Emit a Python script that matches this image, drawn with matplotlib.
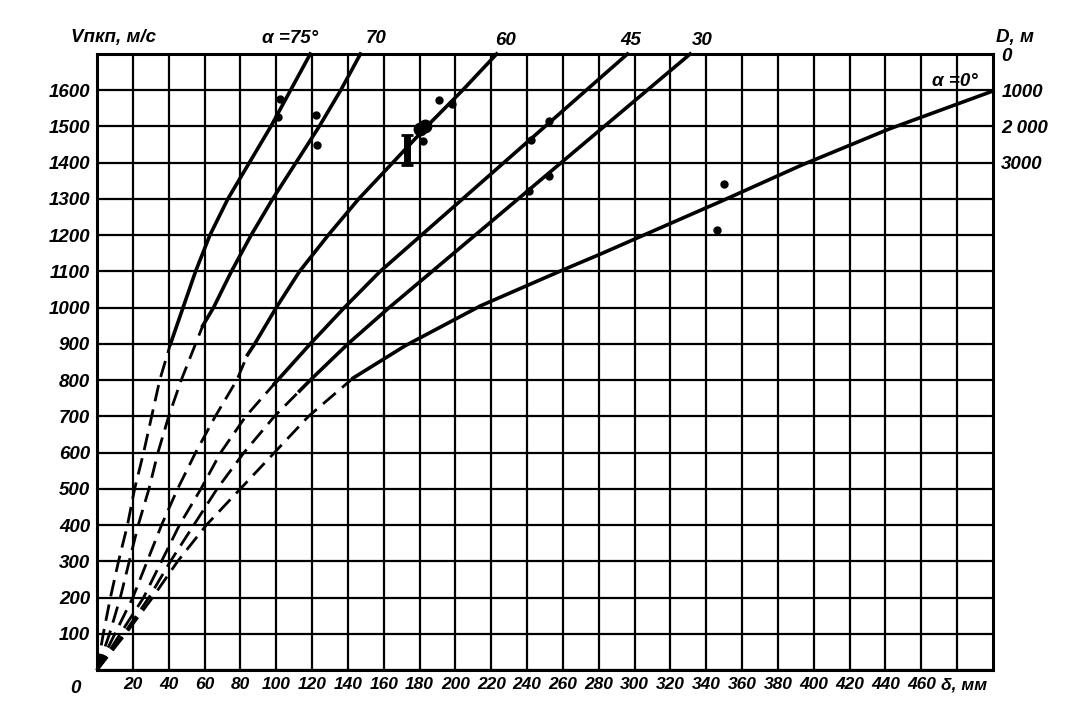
import matplotlib.pyplot as plt

# dashed (extrapolated) and solid parts of each curve: diameter d, mm -> velocity V, m/s
a75_dash_d = [0, 3.5, 7.5, 12, 17, 21, 26, 30.5, 35, 41]
a75_dash_v = [0, 100, 200, 300, 400, 500, 600, 700, 800, 900]
a75_solid_d = [41, 48, 55, 63, 73, 85, 97, 108, 119]
a75_solid_v = [900, 1000, 1100, 1200, 1300, 1400, 1500, 1600, 1700]

a70_dash_d = [0, 7, 13, 18, 23, 29, 34, 40, 47, 55, 59]
a70_dash_v = [0, 100, 200, 300, 400, 500, 600, 700, 800, 900, 950]
a70_solid_d = [59, 65, 75, 86, 98, 111, 124, 136, 147]
a70_solid_v = [950, 1000, 1100, 1200, 1300, 1400, 1500, 1600, 1700]

a60_dash_d = [0, 10, 20, 28, 36, 45, 55, 66, 78, 84]
a60_dash_v = [0, 100, 200, 300, 400, 500, 600, 700, 800, 870]
a60_solid_d = [84, 88, 100, 113, 129, 146, 165, 184, 204, 223]
a60_solid_v = [870, 900, 1000, 1100, 1200, 1300, 1400, 1500, 1600, 1700]

a45_dash_d = [0, 13, 26, 36, 46, 58, 69, 83, 99]
a45_dash_v = [0, 100, 200, 300, 400, 500, 600, 700, 790]
a45_solid_d = [99, 119, 138, 158, 181, 204, 227, 250, 273, 296]
a45_solid_v = [790, 900, 1000, 1100, 1200, 1300, 1400, 1500, 1600, 1700]

a30_dash_d = [0, 15, 29, 41, 54, 67, 82, 99, 113]
a30_dash_v = [0, 100, 200, 300, 400, 500, 600, 700, 770]
a30_solid_d = [113, 119, 140, 163, 187, 211, 235, 259, 283, 307, 331]
a30_solid_v = [770, 800, 900, 1000, 1100, 1200, 1300, 1400, 1500, 1600, 1700]

a0_dash_d = [0, 16, 31, 45, 61, 80, 99, 118, 143]
a0_dash_v = [0, 100, 200, 300, 400, 500, 600, 700, 806]
a0_solid_d = [143, 172, 214, 259, 281, 305, 348, 393, 442, 500]
a0_solid_v = [806, 895, 1005, 1102, 1148, 1200, 1293, 1393, 1493, 1598]

# experimental points
pts_d = [102, 101, 122, 123, 182, 191, 198, 252, 252, 242, 241, 346, 350]
pts_v = [1575, 1525, 1532, 1450, 1460, 1573, 1562, 1515, 1363, 1462, 1321, 1213, 1340]
blob_d = [180, 183]
blob_v = [1493, 1500]
bar_d = 173
bar_v = [1393, 1477]

x_ticks = list(range(0, 500, 20))
x_labels = [''] + [str(v) for v in range(20, 480, 20)] + ['']
y_ticks = list(range(0, 1800, 100))
y_labels = [''] + [str(v) for v in range(100, 1700, 100)] + ['']
d_ticks = [1700, 1600, 1500, 1400]
d_labels = ['0', '1000', '2 000', '3000']

curve_labels = ['α =75°', '70', '60', '45', '30']
curve_label_d = [108, 156, 228, 298, 338]
curve_label_v = [1742, 1742, 1738, 1736, 1736]

font = dict(family=['Liberation Sans', 'DejaVu Sans'], fontstyle='italic',
            fontweight='bold', fontsize=13.5)
small = dict(font, fontsize=12.5)

fig = plt.figure(figsize=(10.79, 7.21), dpi=100)
ax = fig.add_axes([0.0899, 0.0707, 0.8304, 0.8544])

ax.set_xlim(0, 500)
ax.set_ylim(0, 1700)
ax.set_xticks(x_ticks)
ax.set_xticklabels(x_labels, **small)
ax.set_yticks(y_ticks)
ax.set_yticklabels(y_labels, **font)
ax.tick_params(length=0, pad=5)
ax.grid(True, color='black', linewidth=1.6)
for s in ax.spines.values():
    s.set_linewidth(2.2)

dash = (0, (6, 3))
for dd, dv, sd, sv in [(a75_dash_d, a75_dash_v, a75_solid_d, a75_solid_v),
                       (a70_dash_d, a70_dash_v, a70_solid_d, a70_solid_v),
                       (a60_dash_d, a60_dash_v, a60_solid_d, a60_solid_v),
                       (a45_dash_d, a45_dash_v, a45_solid_d, a45_solid_v),
                       (a30_dash_d, a30_dash_v, a30_solid_d, a30_solid_v),
                       (a0_dash_d, a0_dash_v, a0_solid_d, a0_solid_v)]:
    ax.plot(dd, dv, color='black', linewidth=2, linestyle=dash, clip_on=False)
    ax.plot(sd, sv, color='black', linewidth=2.6, clip_on=False)

ax.plot(pts_d, pts_v, 'o', color='black', markersize=5)
ax.plot(blob_d, blob_v, 'o', color='black', markersize=9)
ax.errorbar([bar_d], [sum(bar_v) / 2], yerr=[[(bar_v[1] - bar_v[0]) / 2]],
            color='black', elinewidth=5, capsize=4, capthick=2)

for lab, d, v in zip(curve_labels, curve_label_d, curve_label_v):
    ax.text(d, v, lab, ha='center', va='center', clip_on=False, **font)
ax.text(479, 1625, 'α =0°', ha='center', va='center', **font)
ax.text(9, 1745, 'Vпкп, м/с', ha='center', va='center', **font)
ax.text(-12, -52, '0', ha='center', va='center', **font)
ax.text(471, -42, 'δ, мм', ha='left', va='center', **small)

ax2 = ax.twinx()
ax2.set_ylim(0, 1700)
ax2.set_yticks(d_ticks)
ax2.set_yticklabels(d_labels, **font)
ax2.tick_params(length=0, pad=6)
for s in ax2.spines.values():
    s.set_visible(False)
ax2.text(512, 1745, 'D, м', ha='center', va='center', **font)

fig.savefig('out.png', dpi=100)
